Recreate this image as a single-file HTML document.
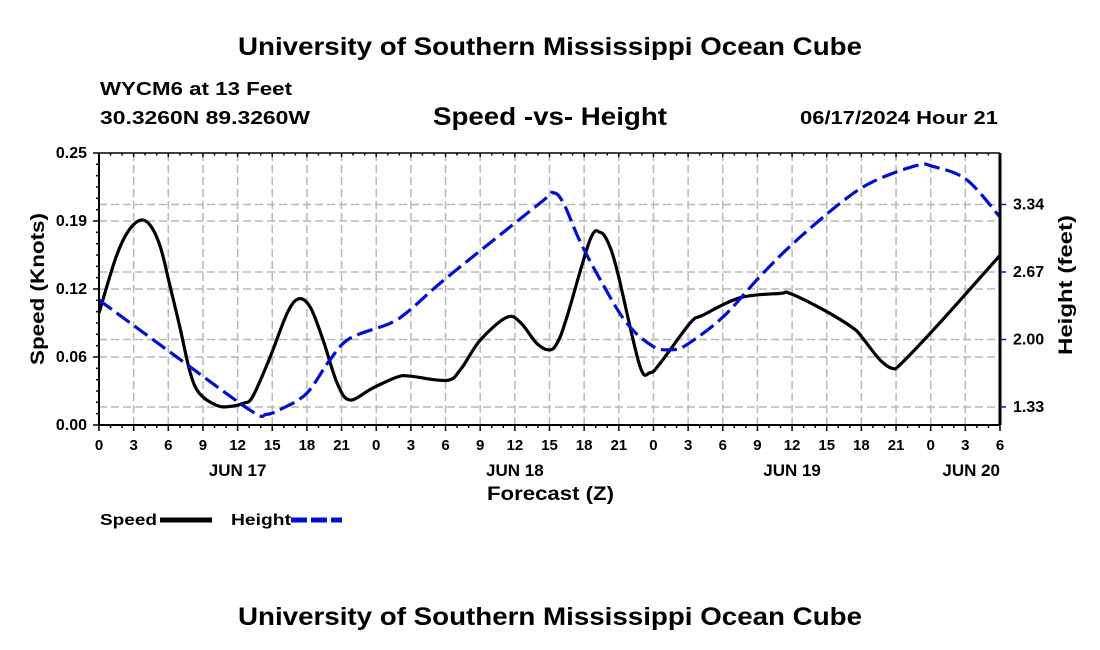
<!DOCTYPE html>
<html><head><meta charset="utf-8"><style>
body{margin:0;background:#fff;}
svg{display:block;font-family:"Liberation Sans",Arial,sans-serif;font-weight:bold;}
</style></head><body>
<svg id="chart" width="1100" height="650" viewBox="0 0 1100 650" xmlns="http://www.w3.org/2000/svg">
<text x="238" y="55" font-size="25" textLength="624" lengthAdjust="spacingAndGlyphs">University of Southern Mississippi Ocean Cube</text>
<text x="100" y="95" font-size="18" textLength="192" lengthAdjust="spacingAndGlyphs">WYCM6 at 13 Feet</text>
<text x="100" y="124" font-size="18" textLength="210" lengthAdjust="spacingAndGlyphs">30.3260N  89.3260W</text>
<text x="433" y="125" font-size="25" textLength="234" lengthAdjust="spacingAndGlyphs">Speed -vs- Height</text>
<text x="800" y="124" font-size="18" textLength="198" lengthAdjust="spacingAndGlyphs">06/17/2024 Hour 21</text>
<g id="grid"></g>
<g id="series"></g>
<g id="axes"></g>
<text transform="translate(44,365) rotate(-90)" font-size="19" textLength="152" lengthAdjust="spacingAndGlyphs">Speed (Knots)</text>
<text transform="translate(1072,355) rotate(-90)" font-size="19" textLength="140" lengthAdjust="spacingAndGlyphs">Height (feet)</text>
<text x="487" y="500" font-size="19" textLength="127" lengthAdjust="spacingAndGlyphs">Forecast (Z)</text>
<g>
<text x="100" y="525" font-size="16" textLength="57" lengthAdjust="spacingAndGlyphs">Speed</text>
<line x1="160" y1="520" x2="212" y2="520" stroke="#000" stroke-width="5"/>
<text x="231" y="525" font-size="16" textLength="60" lengthAdjust="spacingAndGlyphs">Height</text>
<line x1="291" y1="520" x2="342" y2="520" stroke="#0010d0" stroke-width="5" stroke-dasharray="16,4"/>
</g>
<text x="238" y="625" font-size="25" textLength="624" lengthAdjust="spacingAndGlyphs">University of Southern Mississippi Ocean Cube</text>
</svg>
<script>
const speedHours=[0,1.4,2.4,3.5,4.4,5.3,6.1,7,7.9,8.7,10.2,11.3,12.5,13.3,14.8,16.3,17.3,18.3,19.4,20.6,21.7,23.7,25.8,26.9,30.1,31.3,33,35.3,36.5,37.9,39,39.7,40.5,42.5,43.4,44.1,44.9,46.8,47.7,48.6,51.2,52.3,55.5,59,59.8,62.7,65.3,66.1,67.6,68.7,69.5,72.8,78];
const speedValues=[0.103,0.152,0.176,0.188,0.184,0.164,0.130,0.090,0.048,0.029,0.018,0.017,0.020,0.026,0.062,0.103,0.116,0.108,0.078,0.039,0.023,0.034,0.044,0.045,0.041,0.051,0.078,0.099,0.094,0.075,0.069,0.076,0.099,0.170,0.177,0.167,0.140,0.055,0.048,0.057,0.094,0.101,0.117,0.121,0.121,0.106,0.089,0.080,0.060,0.052,0.057,0.094,0.156];
const heightHours=[0,6.1,13.1,14.5,15.9,18,20,21.7,25.2,26.9,30.1,38.2,39.3,40.2,41.6,43.4,45.7,48,49.7,50.9,54,57.2,60.1,64.2,67,70.8,72.2,75.1,78];
const heightValues=[2.39,1.88,1.30,1.26,1.32,1.47,1.80,2.01,2.16,2.29,2.61,3.35,3.45,3.35,2.98,2.59,2.16,1.93,1.90,1.95,2.22,2.62,2.95,3.35,3.56,3.72,3.71,3.58,3.21];
const speedTicks=[0,0.0625,0.125,0.1875,0.25];
const speedTickLabels=["0.00","0.06","0.12","0.19","0.25"];
const heightTicks=[1.333,2.0,2.667,3.334];
const heightTickLabels=["1.33","2.00","2.67","3.34"];
const hourLabels=["0","3","6","9","12","15","18","21","0","3","6","9","12","15","18","21","0","3","6","9","12","15","18","21","0","3","6"];
const dayLabels=["JUN 17","JUN 18","JUN 19","JUN 20"];
const dayLabelHours=[12,36,60,78];

const L=99,R=1000,T=153,B=425,H0=0,H1=78,S0=0,S1=0.25,F0=1.155,F1=3.843;
const xs=h=>L+(h-H0)/(H1-H0)*(R-L);
const ys=v=>B-(v-S0)/(S1-S0)*(B-T);
const yf=v=>B-(v-F0)/(F1-F0)*(B-T);
const NS="http://www.w3.org/2000/svg";
function mk(parent,tag,attrs,text){const e=document.createElementNS(NS,tag);for(const k in attrs)e.setAttribute(k,attrs[k]);if(text!==undefined)e.textContent=text;document.getElementById(parent).appendChild(e);return e;}
function smooth(p){let d='M'+p[0][0]+','+p[0][1];
 for(let i=0;i<p.length-1;i++){const p0=p[Math.max(0,i-1)],p1=p[i],p2=p[i+1],p3=p[Math.min(p.length-1,i+2)];
  const c1=[p1[0]+(p2[0]-p0[0])/6,p1[1]+(p2[1]-p0[1])/6],c2=[p2[0]-(p3[0]-p1[0])/6,p2[1]-(p3[1]-p1[1])/6];
  d+=' C'+c1[0]+','+c1[1]+' '+c2[0]+','+c2[1]+' '+p2[0]+','+p2[1];}
 return d;}
for(let i=1;i<hourLabels.length-1;i++){const x=xs(i*3);
 const g=mk('grid','line',{x1:x,y1:T,x2:x,y2:B,stroke:'#b8b8b8','stroke-width':1.5,'stroke-dasharray':'8,4'});
 
 }
speedTicks.slice(1,-1).forEach(v=>{const g=mk('grid','line',{x1:L,y1:ys(v),x2:R,y2:ys(v),stroke:'#b8b8b8','stroke-width':1.5,'stroke-dasharray':'8,4'});
 
 });
heightTicks.forEach(v=>{const g=mk('grid','line',{x1:L,y1:yf(v),x2:R,y2:yf(v),stroke:'#b8b8b8','stroke-width':1.5,'stroke-dasharray':'8,4'});
 
 });
const sp=mk('series','path',{d:smooth(speedHours.map((h,i)=>[xs(h),ys(speedValues[i])])),fill:'none',stroke:'#000','stroke-width':3.2,'stroke-linejoin':'round'});


const hp=mk('series','path',{d:smooth(heightHours.map((h,i)=>[xs(h),yf(heightValues[i])])),fill:'none',stroke:'#0010d0','stroke-width':3.2,'stroke-dasharray':'16,6','stroke-linejoin':'round'});


[[L,T,L,B,2],[R,T,R,B,3],[L,B,R,B,2],[L,T,R,T,1.5]].forEach(a=>{const l=mk('axes','line',{x1:a[0],y1:a[1],x2:a[2],y2:a[3],stroke:'#000','stroke-width':a[4]});
 
 });
for(let h=0;h<=78;h++){const x=xs(h),len=h%3===0?6:3;
 const t=mk('axes','line',{x1:x,y1:B,x2:x,y2:B+len,stroke:'#000','stroke-width':1.5});
 
 
 const t2=mk('axes','line',{x1:x,y1:T,x2:x,y2:T+len/2+1,stroke:'#000','stroke-width':1.5});
 
 }
hourLabels.forEach((s,i)=>{const t=mk('axes','text',{x:xs(i*3),y:450,'text-anchor':'middle','font-size':15},s);
 
 });
dayLabels.forEach((s,i)=>{const t=mk('axes','text',{x:xs(dayLabelHours[i]),y:476,'text-anchor':dayLabelHours[i]===78?'end':'middle','font-size':17},s);
 
 });
for(let k=0;k<=24;k++){const v=k*0.25/24,maj=k%6===0;
 const t=mk('axes','line',{x1:L,y1:ys(v),x2:L-(maj?6:3),y2:ys(v),stroke:'#000','stroke-width':1.5});
 
 }
speedTicks.forEach((v,i)=>{const t=mk('axes','text',{x:87,y:ys(v)+5,'text-anchor':'end','font-size':16},speedTickLabels[i]);
 
 });
heightTicks.forEach((v,i)=>{const l=mk('axes','line',{x1:R,y1:yf(v),x2:R+6,y2:yf(v),stroke:'#0010d0','stroke-width':1.5});
 
 
 const t=mk('axes','text',{x:1013,y:yf(v)+5,'font-size':16},heightTickLabels[i]);
 
 });
</script>
</body></html>
